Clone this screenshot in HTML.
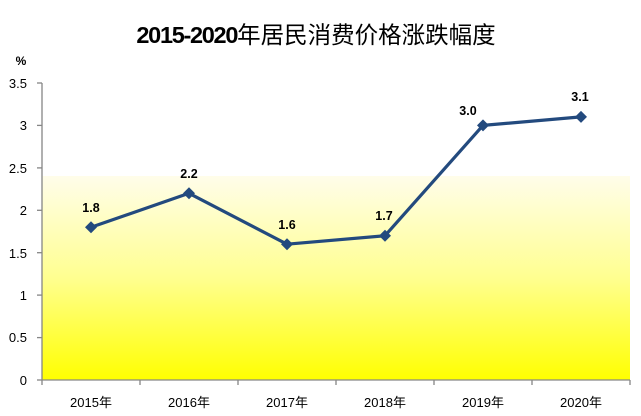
<!DOCTYPE html>
<html><head><meta charset="utf-8"><style>
html,body{margin:0;padding:0;background:#fff;}
svg{display:block;}
</style></head><body>
<svg width="641" height="416" viewBox="0 0 641 416" xmlns="http://www.w3.org/2000/svg">
<defs>
<linearGradient id="g" x1="0" y1="176" x2="0" y2="380" gradientUnits="userSpaceOnUse">
<stop offset="0" stop-color="#fffdea"/>
<stop offset="0.5" stop-color="#ffff90"/>
<stop offset="1" stop-color="#ffff00"/>
</linearGradient>
</defs>
<rect x="0" y="0" width="641" height="416" fill="#fff"/>
<rect x="42" y="176" width="588" height="204" fill="url(#g)"/>
<text x="316" y="43" text-anchor="middle" font-family="Liberation Sans, Noto Sans CJK SC, sans-serif" font-size="23.5" fill="#000"><tspan font-weight="bold" letter-spacing="-1.3">2015-2020</tspan><tspan font-family="Noto Sans CJK SC, sans-serif" font-size="23.5">年居民消费价格涨跌幅度</tspan></text>
<text x="21" y="65" text-anchor="middle" font-family="Liberation Sans, sans-serif" font-size="12" font-weight="bold" fill="#000">%</text>
<g stroke="#868686" stroke-width="1.3" fill="none">
<line x1="42" y1="83" x2="42" y2="380"/>
<line x1="42" y1="380" x2="630" y2="380"/>
<line x1="37" y1="83" x2="42" y2="83"/>
<line x1="37" y1="125.4" x2="42" y2="125.4"/>
<line x1="37" y1="167.9" x2="42" y2="167.9"/>
<line x1="37" y1="210.3" x2="42" y2="210.3"/>
<line x1="37" y1="252.7" x2="42" y2="252.7"/>
<line x1="37" y1="295.1" x2="42" y2="295.1"/>
<line x1="37" y1="337.6" x2="42" y2="337.6"/>
<line x1="37" y1="380" x2="42" y2="380"/>
<line x1="42" y1="380" x2="42" y2="385"/>
<line x1="140" y1="380" x2="140" y2="385"/>
<line x1="238" y1="380" x2="238" y2="385"/>
<line x1="336" y1="380" x2="336" y2="385"/>
<line x1="434" y1="380" x2="434" y2="385"/>
<line x1="532" y1="380" x2="532" y2="385"/>
<line x1="630" y1="380" x2="630" y2="385"/>
</g>
<g font-family="Liberation Sans, sans-serif" font-size="13" fill="#000" text-anchor="end">
<text x="27" y="88">3.5</text>
<text x="27" y="130">3</text>
<text x="27" y="173">2.5</text>
<text x="27" y="215">2</text>
<text x="27" y="258">1.5</text>
<text x="27" y="300">1</text>
<text x="27" y="342">0.5</text>
<text x="27" y="385">0</text>
</g>
<g font-family="Liberation Sans, Noto Sans CJK SC, sans-serif" font-size="13" fill="#000" text-anchor="middle">
<text x="91" y="407">2015年</text>
<text x="189" y="407">2016年</text>
<text x="287" y="407">2017年</text>
<text x="385" y="407">2018年</text>
<text x="483" y="407">2019年</text>
<text x="581" y="407">2020年</text>
</g>
<polyline points="91,227.3 189,193.3 287,244.2 385,235.7 483,125.4 581,116.9" fill="none" stroke="#234a7e" stroke-width="3.2" stroke-linejoin="round"/>
<g fill="#234a7e">
<polygon points="91,221.3 97,227.3 91,233.3 85,227.3"/>
<polygon points="189,187.3 195,193.3 189,199.3 183,193.3"/>
<polygon points="287,238.2 293,244.2 287,250.2 281,244.2"/>
<polygon points="385,229.7 391,235.7 385,241.7 379,235.7"/>
<polygon points="483,119.4 489,125.4 483,131.4 477,125.4"/>
<polygon points="581,110.9 587,116.9 581,122.9 575,116.9"/>
</g>
<g font-family="Liberation Sans, sans-serif" font-size="12.5" font-weight="bold" fill="#000" text-anchor="middle">
<text x="91" y="212">1.8</text>
<text x="189" y="178">2.2</text>
<text x="287" y="229">1.6</text>
<text x="384" y="220">1.7</text>
<text x="468" y="115">3.0</text>
<text x="580" y="101">3.1</text>
</g>
</svg>
</body></html>
